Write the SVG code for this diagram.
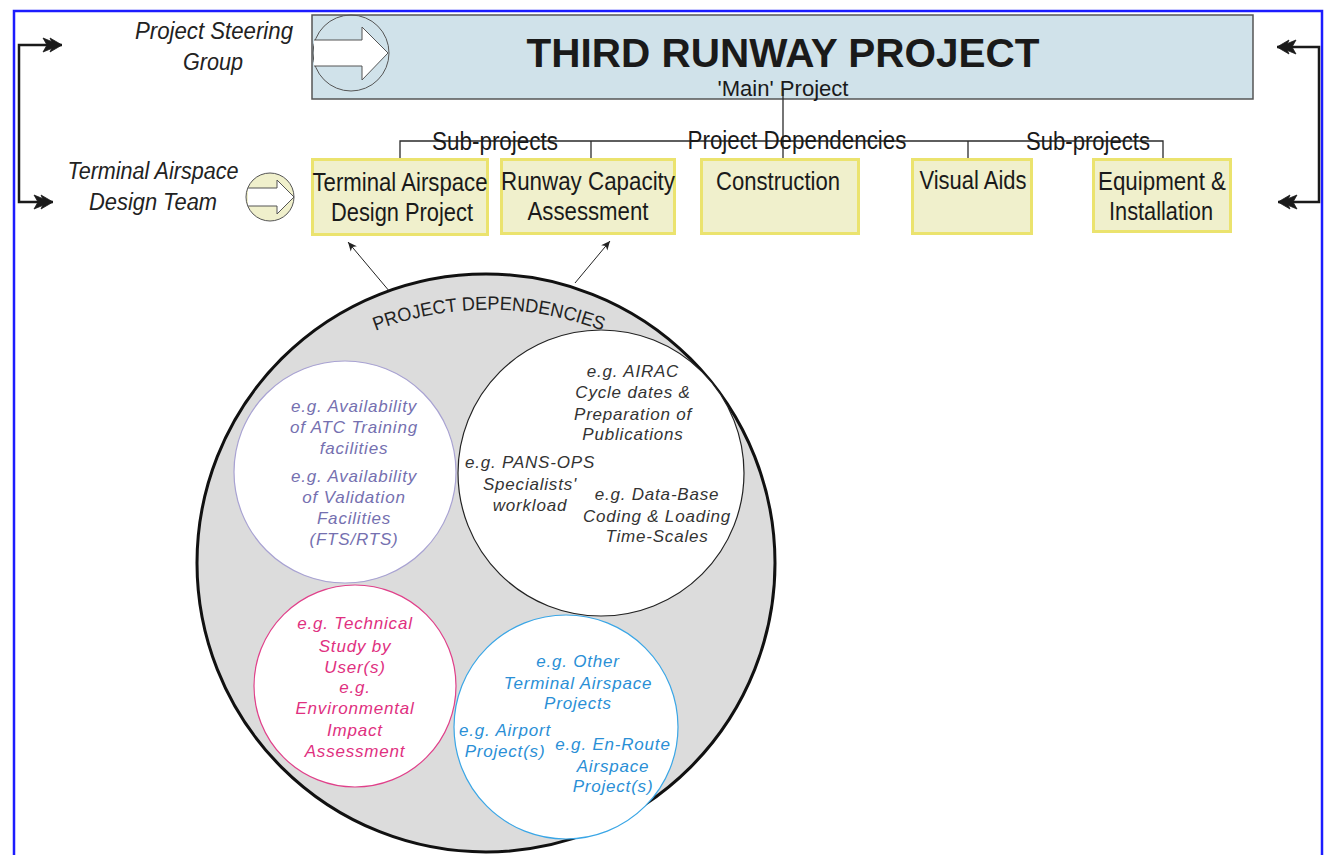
<svg xmlns="http://www.w3.org/2000/svg" width="1324" height="855" viewBox="0 0 1324 855">
<style>
.frame{fill:none;stroke:#1c1cff;stroke-width:2.5}
.main{fill:#d0e2ea;stroke:#555;stroke-width:1.5}
.sub{fill:#f0f0cc;stroke:#ebe36e;stroke-width:3}
.icon{stroke:#555;stroke-width:1}
.ln{fill:none;stroke:#2a2a2a;stroke-width:1.3}
.br{fill:none;stroke:#1a1a1a;stroke-width:2.5}
.cond{font-family:"Liberation Sans",Arial,sans-serif;font-size:26px;fill:#1a1a1a;text-anchor:middle}
.lbl{font-family:"Liberation Sans",Arial,sans-serif;font-size:23px;font-style:italic;fill:#222;text-anchor:middle}
.eg{font-family:"Liberation Sans",Arial,sans-serif;font-size:17px;font-style:italic;letter-spacing:0.8px;text-anchor:middle}
.lav{fill:#7570b0}
.blk{fill:#333}
.pnk{fill:#e0307f}
.cyn{fill:#2a8fd6}
</style>
<defs>
<marker id="dbl" viewBox="-21 -8 22 16" refX="0" refY="0" markerWidth="22" markerHeight="16" markerUnits="userSpaceOnUse" orient="auto-start-reverse">
<path d="M0,0 L-12,-7 L-10.5,-3.5 L-19,-7 L-15,0 L-19,7 L-10.5,3.5 L-12,7 Z" fill="#1a1a1a" stroke="#1a1a1a" stroke-width="0.8" stroke-linejoin="round"/>
</marker>
<marker id="ah" viewBox="-9 -5 10 10" refX="0" refY="0" markerWidth="10" markerHeight="10" markerUnits="userSpaceOnUse" orient="auto">
<path d="M0,0 L-9,-4 L-6.5,0 L-9,4 Z" fill="#222"/>
</marker>
<path id="arcTxt" d="M350,342 A315,315 0 0 1 628,342"/>
</defs>

<rect class="frame" x="14" y="11" width="1308" height="900"/>

<g id="main-project">
<rect class="main" x="312" y="15" width="941" height="84"/>
<circle class="icon" cx="351" cy="53" r="38" fill="none"/>
<polygon points="314,40 362,40 362,27 388,53 362,80 362,66 314,66" fill="#fff"/>
<polyline class="icon" fill="none" points="314,40 362,40 362,27 388,53 362,80 362,66 314,66"/>
<text x="783" y="67" font-family="Liberation Sans,Arial,sans-serif" font-size="41" font-weight="bold" fill="#1a1a1a" text-anchor="middle" textLength="513" lengthAdjust="spacingAndGlyphs">THIRD RUNWAY PROJECT</text>
<text x="783" y="96" class="cond" style="font-size:22px" textLength="131" lengthAdjust="spacingAndGlyphs">'Main' Project</text>
</g>

<g id="steering-group">
<text class="lbl" x="214" y="39" textLength="158" lengthAdjust="spacingAndGlyphs">Project Steering</text>
<text class="lbl" x="213" y="70" textLength="60" lengthAdjust="spacingAndGlyphs">Group</text>
</g>

<g id="design-team">
<text class="lbl" x="153" y="179" textLength="171" lengthAdjust="spacingAndGlyphs">Terminal Airspace</text>
<text class="lbl" x="153" y="210" textLength="128" lengthAdjust="spacingAndGlyphs">Design Team</text>
<circle class="icon" cx="270" cy="197" r="24" fill="#f0f0cc"/>
<polygon points="248,188 277,188 277,180 294,197 277,214 277,206 248,206" fill="#fff"/>
<polyline class="icon" fill="none" points="248,188 277,188 277,180 294,197 277,214 277,206 248,206"/>
</g>

<g id="connectors">
<path class="ln" d="M400,158 V141 H1163 V158"/>
<path class="ln" d="M591,141 V158"/>
<path class="ln" d="M968,141 V158"/>
<path class="ln" d="M783,88 V160"/>
<path class="br" d="M62,45 H19 V202 H53" marker-start="url(#dbl)" marker-end="url(#dbl)"/>
<path class="br" d="M1277,47 H1319 V202 H1278" marker-start="url(#dbl)" marker-end="url(#dbl)"/>
<line x1="390" y1="292" x2="348" y2="242" stroke="#222" stroke-width="1" marker-end="url(#ah)"/>
<line x1="575" y1="283" x2="610" y2="241" stroke="#222" stroke-width="1" marker-end="url(#ah)"/>
</g>

<g id="line-labels">
<text class="cond" x="495" y="150" textLength="126" lengthAdjust="spacingAndGlyphs">Sub-projects</text>
<text class="cond" x="797" y="149" textLength="219" lengthAdjust="spacingAndGlyphs">Project Dependencies</text>
<text class="cond" x="1088" y="150" textLength="124" lengthAdjust="spacingAndGlyphs">Sub-projects</text>
</g>

<g id="tad-project">
<rect class="sub" x="312.5" y="159.5" width="175" height="75"/>
<text class="cond" x="400" y="191" textLength="175" lengthAdjust="spacingAndGlyphs">Terminal Airspace</text>
<text class="cond" x="402" y="221" textLength="142" lengthAdjust="spacingAndGlyphs">Design Project</text>
</g>
<g id="runway-capacity">
<rect class="sub" x="501.5" y="159.5" width="173" height="74"/>
<text class="cond" x="588" y="190" textLength="174" lengthAdjust="spacingAndGlyphs">Runway Capacity</text>
<text class="cond" x="588" y="220" textLength="121" lengthAdjust="spacingAndGlyphs">Assessment</text>
</g>
<g id="construction">
<rect class="sub" x="701.5" y="159.5" width="157" height="74"/>
<text class="cond" x="778" y="190" textLength="124" lengthAdjust="spacingAndGlyphs">Construction</text>
</g>
<g id="visual-aids">
<rect class="sub" x="912.5" y="159.5" width="119" height="74"/>
<text class="cond" x="973" y="189" textLength="107" lengthAdjust="spacingAndGlyphs">Visual Aids</text>
</g>
<g id="equipment">
<rect class="sub" x="1093.5" y="159.5" width="137" height="72"/>
<text class="cond" x="1162" y="190" textLength="128" lengthAdjust="spacingAndGlyphs">Equipment &amp;</text>
<text class="cond" x="1161" y="220" textLength="104" lengthAdjust="spacingAndGlyphs">Installation</text>
</g>

<g id="project-dependencies">
<circle cx="486" cy="563" r="289" fill="#dcdcdc" stroke="#111" stroke-width="3"/>
<text font-family="Liberation Sans,Arial,sans-serif" font-size="19" fill="#222"><textPath href="#arcTxt" startOffset="50%" text-anchor="middle" textLength="232" lengthAdjust="spacingAndGlyphs">PROJECT DEPENDENCIES</textPath></text>
</g>

<g id="facilities">
<circle cx="345" cy="472" r="111" fill="#fff" stroke="#a8a2d2" stroke-width="1.2"/>
<text class="eg lav" x="354" y="412">e.g. Availability</text>
<text class="eg lav" x="354" y="433">of ATC Training</text>
<text class="eg lav" x="354" y="454">facilities</text>
<text class="eg lav" x="354" y="482">e.g. Availability</text>
<text class="eg lav" x="354" y="503">of Validation</text>
<text class="eg lav" x="354" y="524">Facilities</text>
<text class="eg lav" x="354" y="545">(FTS/RTS)</text>
</g>

<g id="procedures">
<circle cx="601" cy="473" r="143" fill="#fff" stroke="#222" stroke-width="1.2"/>
<text class="eg blk" x="633" y="377">e.g. AIRAC</text>
<text class="eg blk" x="633" y="398">Cycle dates &amp;</text>
<text class="eg blk" x="633" y="420">Preparation of</text>
<text class="eg blk" x="633" y="440">Publications</text>
<text class="eg blk" x="530" y="468">e.g. PANS-OPS</text>
<text class="eg blk" x="530" y="490">Specialists'</text>
<text class="eg blk" x="530" y="511">workload</text>
<text class="eg blk" x="657" y="500">e.g. Data-Base</text>
<text class="eg blk" x="657" y="522">Coding &amp; Loading</text>
<text class="eg blk" x="657" y="542">Time-Scales</text>
</g>

<g id="studies">
<circle cx="355" cy="686" r="101" fill="#fff" stroke="#e0408a" stroke-width="1.2"/>
<text class="eg pnk" x="355" y="629">e.g. Technical</text>
<text class="eg pnk" x="355" y="652">Study by</text>
<text class="eg pnk" x="355" y="673">User(s)</text>
<text class="eg pnk" x="355" y="693">e.g.</text>
<text class="eg pnk" x="355" y="714">Environmental</text>
<text class="eg pnk" x="355" y="736">Impact</text>
<text class="eg pnk" x="355" y="757">Assessment</text>
</g>

<g id="other-projects">
<circle cx="566" cy="727" r="112" fill="#fff" stroke="#3aa6e6" stroke-width="1.2"/>
<text class="eg cyn" x="578" y="667">e.g. Other</text>
<text class="eg cyn" x="578" y="689">Terminal Airspace</text>
<text class="eg cyn" x="578" y="709">Projects</text>
<text class="eg cyn" x="505" y="736">e.g. Airport</text>
<text class="eg cyn" x="505" y="757">Project(s)</text>
<text class="eg cyn" x="613" y="750">e.g. En-Route</text>
<text class="eg cyn" x="613" y="772">Airspace</text>
<text class="eg cyn" x="613" y="792">Project(s)</text>
</g>
</svg>
